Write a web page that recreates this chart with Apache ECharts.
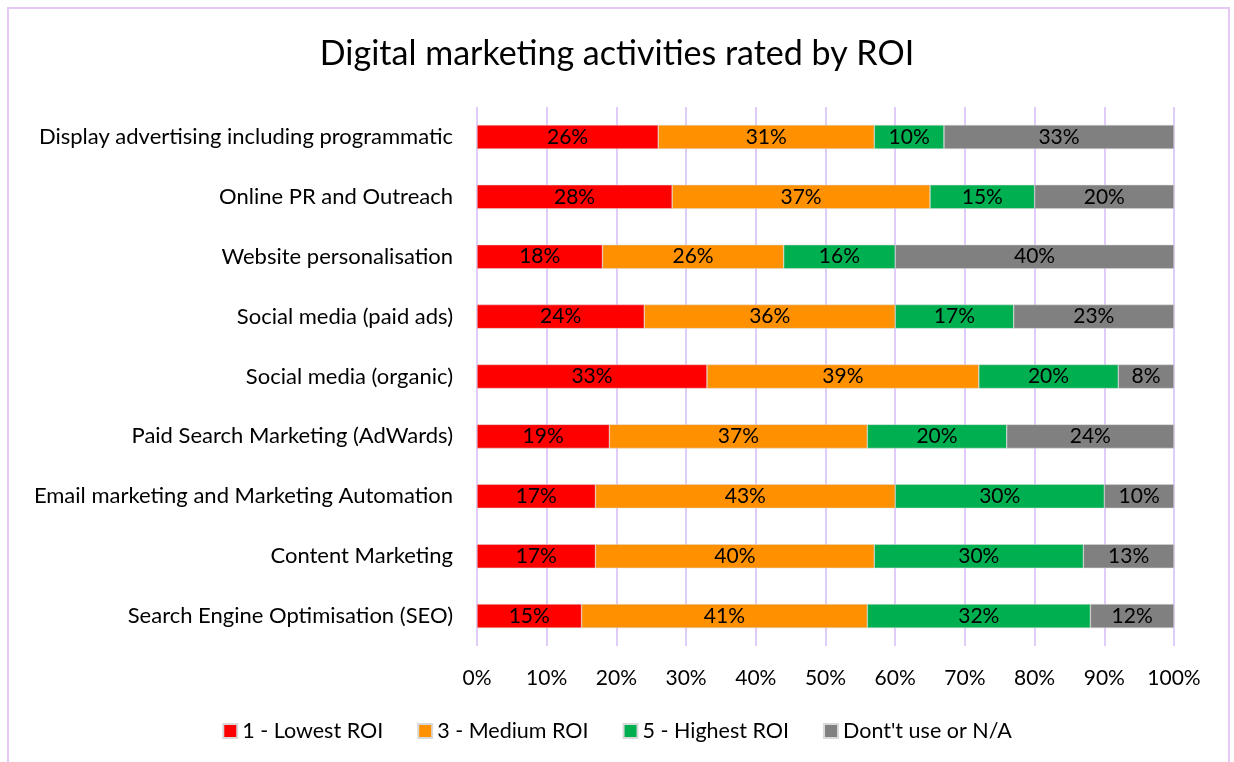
<!DOCTYPE html>
<html>
<head>
<meta charset="utf-8">
<script src="https://cdn.jsdelivr.net/npm/echarts@6/dist/echarts.min.js"></script>
<style>
  html, body { margin: 0; padding: 0; background: #fff; }
  #chart { width: 1234px; height: 762px; }
</style>
</head>
<body>
<div id="chart"></div>
<script>
// categories, top to bottom
const categories = [
  'Display advertising including programmatic',
  'Online PR and Outreach',
  'Website personalisation',
  'Social media (paid ads)',
  'Social media (organic)',
  'Paid Search Marketing (AdWards)',
  'Email marketing and Marketing Automation',
  'Content Marketing',
  'Search Engine Optimisation (SEO)'
]
const seriesNames = ['1 - Lowest ROI', '3 - Medium ROI', '5 - Highest ROI', "Dont't use or N/A"]
const lowest = [26, 28, 18, 24, 33, 19, 17, 17, 15]
const medium = [31, 37, 26, 36, 39, 37, 43, 40, 41]
const highest = [10, 15, 16, 17, 20, 20, 30, 30, 32]
const notUsed = [33, 20, 40, 23, 8, 24, 10, 13, 12]
const colors = ['#ff0000', '#ff9000', '#00b050', '#808080']

const FONT = 'Lato'
const chart = echarts.init(document.getElementById('chart'))

function makeSeries(i, values) {
  return {
    name: seriesNames[i],
    type: 'bar',
    stack: 'total',
    barWidth: 24,
    data: values,
    itemStyle: { color: colors[i], borderColor: '#d9d9d9', borderWidth: 0.5 },
    label: {
      show: true,
      position: 'inside',
      formatter: '{c}%',
      color: '#000',
      fontFamily: FONT,
      fontSize: 21
    }
  }
}

chart.setOption({
  backgroundColor: '#fff',
  animation: false,
  title: {
    text: 'Digital marketing activities rated by ROI',
    left: 'center',
    top: 32,
    textStyle: { fontFamily: FONT, fontSize: 34, fontWeight: 'normal', color: '#000' }
  },
  // 外框
  graphic: [{
    type: 'rect',
    shape: { x: 8, y: 8, width: 1221, height: 760 },
    style: { fill: 'none', stroke: '#e6c8f5', lineWidth: 2 }
  }],
  legend: {
    bottom: 15,
    left: 'center',
    itemWidth: 14,
    itemHeight: 14,
    itemGap: 34,
    icon: 'rect',
    textStyle: { fontFamily: FONT, fontSize: 21.5, color: '#000' },
    data: seriesNames
  },
  grid: {
    left: 477,
    right: 60,
    top: 107,
    bottom: 116
  },
  xAxis: {
    type: 'value',
    min: 0,
    max: 100,
    interval: 10,
    axisLine: { show: false },
    axisTick: { show: false },
    axisLabel: {
      formatter: '{value}%',
      color: '#000',
      fontFamily: FONT,
      fontSize: 21,
      margin: 22
    },
    splitLine: { show: true, lineStyle: { color: '#e0ccf8', width: 2 } }
  },
  yAxis: {
    type: 'category',
    inverse: true,
    data: categories,
    axisLine: { show: false },
    axisTick: { show: false },
    axisLabel: {
      color: '#000',
      fontFamily: FONT,
      fontSize: 22,
      margin: 24
    }
  },
  series: [
    makeSeries(0, lowest),
    makeSeries(1, medium),
    makeSeries(2, highest),
    makeSeries(3, notUsed)
  ]
})
</script>
</body>
</html>
